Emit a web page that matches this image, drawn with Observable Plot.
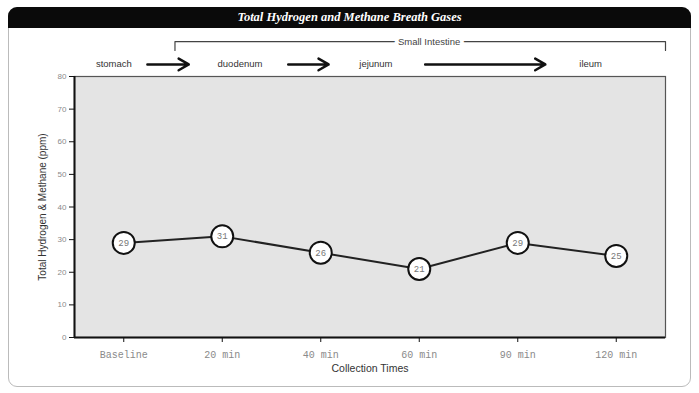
<!DOCTYPE html>
<html>
<head>
<meta charset="utf-8">
<script src="https://cdn.jsdelivr.net/npm/d3@7"></script>
<script src="https://cdn.jsdelivr.net/npm/@observablehq/plot@0.6"></script>
<style>
  html, body { margin: 0; padding: 0; background: #fff; }
  #wrap { position: relative; width: 699px; height: 393px; overflow: hidden; }
  #panel { position: absolute; left: 8px; top: 7px; width: 683px; height: 380px;
           border: 1px solid #bbb; border-radius: 9px; box-sizing: border-box; }
  #title { position: absolute; left: 8px; top: 7px; width: 683px; height: 21px;
           background: #0a0a0a; border-radius: 9px 9px 0 0; color: #fff;
           font: bold italic 12.5px "Liberation Serif", serif; text-align: center;
           line-height: 21px; }
  #chart { position: absolute; left: 0; top: 0; }
</style>
</head>
<body>
<div id="wrap">
  <div id="panel"></div>
  <div id="title">Total Hydrogen and Methane Breath Gases</div>
  <div id="chart"></div>
</div>
<script>
// Data
const times = ["Baseline", "20 min", "40 min", "60 min", "90 min", "120 min"];
const values = [29, 31, 26, 21, 29, 25];
const yTicks = [0, 10, 20, 30, 40, 50, 60, 70, 80];

// Annotation (gut regions) along the collection-time index axis
const regionNames = ["stomach", "duodenum", "jejunum", "ileum"];
const regionPos = [-0.1, 1.18, 2.56, 4.74];
const arrowStart = [0.24, 1.67, 3.06];
const arrowEnd = [0.66, 2.08, 4.28];
const bracketX = [0.52, 0.52, 5.5, 5.5];
const bracketY = [88.0, 90.7, 90.7, 88.0];
const bracketLabel = "Small Intestine";

const data = times.map((t, i) => ({i, t, v: values[i]}));
const regions = regionNames.map((n, k) => ({n, x: regionPos[k]}));
const arrows = arrowStart.map((s, k) => ({x1: s, x2: arrowEnd[k]}));
const bracket = bracketX.map((x, k) => ({x, y: bracketY[k]}));

const chart = Plot.plot({
  width: 699,
  height: 393,
  marginLeft: 74,
  marginRight: 34,
  marginTop: 76,
  marginBottom: 56,
  style: {background: "transparent", fontFamily: "Liberation Sans, sans-serif"},
  x: {domain: [-0.5, 5.5], axis: null},
  y: {domain: [0, 80], axis: null},
  marks: [
    Plot.frame({fill: "#e4e4e4", stroke: "#555", strokeWidth: 1.2}),
    Plot.ruleY([0], {stroke: "#111", strokeWidth: 2}),
    Plot.ruleX([-0.5], {stroke: "#111", strokeWidth: 2}),
    Plot.axisY({ticks: yTicks, tickSize: 5, tickPadding: 3, fontSize: 8, fill: "#8a8a8a", stroke: "#111",
      label: null}),
    Plot.text(["Total Hydrogen & Methane (ppm)"], {frameAnchor: "left", textAnchor: "middle", rotate: -90,
      dx: -32, fontSize: 10, fill: "#333"}),
    Plot.axisX({ticks: d3.range(times.length), tickFormat: (d) => times[d], tickSize: 5, tickPadding: 8,
      fontSize: 10, fontFamily: "Liberation Mono, monospace", fill: "#8a8a8a", stroke: "#111",
      label: null}),
    Plot.text(["Collection Times"], {frameAnchor: "bottom", dy: 34, fontSize: 10.5, fill: "#333"}),
    Plot.line(data, {x: "i", y: "v", stroke: "#222", strokeWidth: 2}),
    Plot.dot(data, {x: "i", y: "v", r: 11, fill: "#fff", stroke: "#111", strokeWidth: 2}),
    Plot.text(data, {x: "i", y: "v", text: (d) => String(d.v), fontSize: 9,
      fontFamily: "Liberation Mono, monospace", fill: "#777"}),
    // gut region annotations
    Plot.line(bracket, {x: "x", y: "y", stroke: "#444", strokeWidth: 1.2}),
    Plot.text([bracketLabel], {x: 3.1, y: 90.7, fontSize: 9.5, fill: "#444",
      stroke: "#fff", strokeWidth: 8, paintOrder: "stroke"}),
    Plot.text(regions, {x: "x", y: 83.7, text: "n", fontSize: 9.5, fill: "#333"}),
    Plot.arrow(arrows, {x1: "x1", x2: "x2", y1: 83.7, y2: 83.7, stroke: "#111", strokeWidth: 2.5,
      headLength: 7})
  ]
});
document.getElementById("chart").appendChild(chart);
</script>
</body>
</html>
